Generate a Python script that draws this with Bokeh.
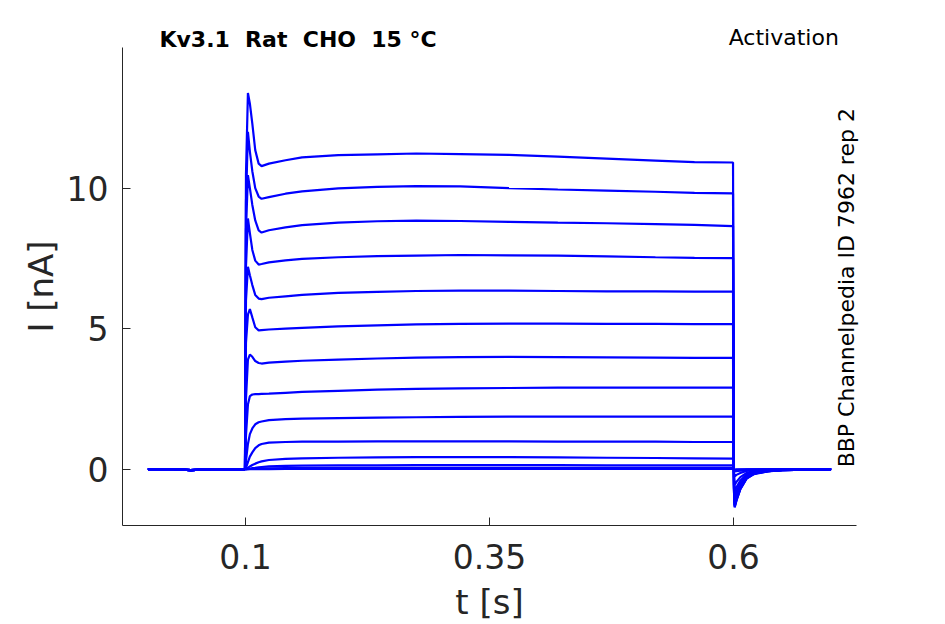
import math
from bokeh.plotting import figure
from bokeh.models import ColumnDataSource, FixedTicker, Range1d, LinearAxis
from bokeh.embed import file_html
from bokeh.resources import INLINE

# ---------------- data ----------------
time_s = [0.000, 0.022, 0.044, 0.070, 0.0995,
          0.1005, 0.1025, 0.1045, 0.107, 0.110, 0.1135, 0.1165, 0.124, 0.141, 0.158,
          0.195, 0.235, 0.275, 0.320, 0.370, 0.420, 0.470, 0.520, 0.560, 0.5995,
          0.6005, 0.6012, 0.603, 0.607, 0.6135, 0.621, 0.635, 0.650, 0.700]

trace_01 = [0, 0.01, -0.03, 0.01, 0,
            10.5, 13.38, 13.0, 12.29, 11.35, 10.87, 10.78, 10.87, 10.99, 11.09,
            11.17, 11.2, 11.23, 11.21, 11.18, 11.12, 11.05, 10.98, 10.92, 10.91,
            -0.8, -1.36, -1.12, -0.71, -0.33, -0.17, -0.08, -0.03, 0]
trace_02 = [0, 0.01, -0.03, 0.01, 0,
            9.5, 12.0, 11.3, 10.6, 10.0, 9.7, 9.62, 9.68, 9.8, 9.88,
            9.99, 10.04, 10.07, 10.06, 10.0, 9.95, 9.91, 9.87, 9.83, 9.81,
            -0.8, -1.33, -1.1, -0.7, -0.32, -0.16, -0.07, -0.03, 0]
trace_03 = [0, 0.01, -0.03, 0.01, 0,
            8.5, 10.46, 10.0, 9.4, 8.85, 8.5, 8.42, 8.5, 8.6, 8.68,
            8.77, 8.82, 8.84, 8.83, 8.8, 8.77, 8.75, 8.72, 8.69, 8.65,
            -0.7, -1.30, -1.07, -0.68, -0.31, -0.15, -0.07, -0.03, 0]
trace_04 = [0, 0.01, -0.03, 0.01, 0,
            7.2, 8.92, 8.4, 7.8, 7.42, 7.28, 7.3, 7.36, 7.43, 7.48,
            7.54, 7.58, 7.6, 7.62, 7.61, 7.6, 7.57, 7.54, 7.52, 7.51,
            -0.7, -1.27, -1.04, -0.66, -0.3, -0.15, -0.07, -0.03, 0]
trace_05 = [0, 0.01, -0.03, 0.01, 0,
            6.0, 7.2, 6.9, 6.55, 6.2, 6.07, 6.05, 6.1, 6.15, 6.2,
            6.27, 6.31, 6.34, 6.35, 6.35, 6.34, 6.33, 6.33, 6.32, 6.32,
            -0.65, -1.22, -1.0, -0.63, -0.29, -0.14, -0.07, -0.03, 0]
trace_06 = [0, 0.01, -0.03, 0.01, 0,
            4.5, 5.5, 5.7, 5.4, 5.05, 4.94, 4.95, 4.97, 5.0, 5.03,
            5.08, 5.12, 5.15, 5.17, 5.18, 5.18, 5.17, 5.17, 5.16, 5.16,
            -0.6, -1.17, -0.96, -0.6, -0.28, -0.13, -0.06, -0.02, 0]
trace_07 = [0, 0.01, -0.03, 0.01, 0,
            2.5, 3.9, 4.08, 4.0, 3.85, 3.78, 3.76, 3.79, 3.83, 3.86,
            3.9, 3.94, 3.97, 3.99, 4.0, 3.99, 3.98, 3.97, 3.96, 3.96,
            -0.55, -1.08, -0.88, -0.55, -0.25, -0.12, -0.06, -0.02, 0]
trace_08 = [0, 0.01, -0.03, 0.01, 0,
            1.2, 2.3, 2.6, 2.66, 2.67, 2.67, 2.68, 2.69, 2.72, 2.75,
            2.79, 2.83, 2.86, 2.88, 2.89, 2.9, 2.9, 2.9, 2.9, 2.9,
            -0.5, -0.95, -0.78, -0.49, -0.22, -0.11, -0.05, -0.02, 0]
trace_09 = [0, 0.01, -0.03, 0.01, 0,
            0.3, 0.9, 1.25, 1.45, 1.6, 1.67, 1.7, 1.75, 1.78, 1.8,
            1.82, 1.84, 1.85, 1.86, 1.87, 1.87, 1.87, 1.87, 1.87, 1.87,
            -0.4, -0.78, -0.64, -0.4, -0.18, -0.09, -0.04, -0.01, 0]
trace_10 = [0, 0.01, -0.03, 0.01, 0,
            0.05, 0.25, 0.45, 0.6, 0.75, 0.85, 0.9, 0.95, 0.97, 0.98,
            0.98, 0.99, 0.99, 0.99, 0.99, 0.98, 0.98, 0.98, 0.97, 0.97,
            -0.3, -0.55, -0.45, -0.28, -0.13, -0.06, -0.03, -0.01, 0]
trace_11 = [0, 0.01, -0.03, 0.01, 0,
            0.0, 0.05, 0.1, 0.15, 0.2, 0.25, 0.28, 0.33, 0.37, 0.39,
            0.41, 0.42, 0.43, 0.43, 0.43, 0.42, 0.41, 0.40, 0.39, 0.38,
            -0.12, -0.25, -0.2, -0.13, -0.06, -0.03, -0.01, 0, 0]
trace_12 = [0, 0.01, -0.03, 0.01, 0,
            0.0, 0.01, 0.02, 0.04, 0.05, 0.07, 0.08, 0.1, 0.12, 0.13,
            0.14, 0.14, 0.15, 0.15, 0.15, 0.15, 0.14, 0.14, 0.14, 0.14,
            -0.04, -0.08, -0.07, -0.05, -0.02, -0.01, 0, 0, 0]
trace_13 = [0, 0.01, -0.03, 0.01, 0,
            0.0, 0.0, 0.01, 0.01, 0.02, 0.02, 0.03, 0.03, 0.04, 0.04,
            0.05, 0.05, 0.05, 0.05, 0.05, 0.05, 0.05, 0.05, 0.05, 0.05,
            -0.01, -0.03, -0.02, -0.01, 0, 0, 0, 0, 0]
trace_14 = [0, 0.01, -0.03, 0.01, 0,
            0.0, 0.0, 0.0, 0.0, 0.0, 0.0, 0.0, 0.0, 0.01, 0.01,
            0.01, 0.01, 0.01, 0.01, 0.01, 0.01, 0.01, 0.01, 0.01, 0.01,
            0.0, -0.01, 0.0, 0.0, 0, 0, 0, 0, 0]

traces = [trace_01, trace_02, trace_03, trace_04, trace_05, trace_06, trace_07,
          trace_08, trace_09, trace_10, trace_11, trace_12, trace_13, trace_14]

x_tick_values = [0.1, 0.35, 0.6]
x_tick_labels = ["0.1", "0.35", "0.6"]
y_tick_values = [0, 5, 10]
y_tick_labels = ["0", "5", "10"]

# double spaces kept with no-break spaces (SVG collapses plain runs of spaces)
title_text = "Kv3.1\u00a0 Rat\u00a0 CHO\u00a0 15 °C"
protocol_text = "Activation"
source_text = "BBP Channelpedia ID 7962 rep 2"

# ---------------- figure ----------------
W, H = 940, 624
p = figure(width=W, height=H, output_backend="svg", toolbar_location=None,
           x_range=Range1d(-0.026, 0.726), y_range=Range1d(-2, 15),
           min_border_left=122, min_border_right=W - 856,
           min_border_top=47, min_border_bottom=H - 526)
p.outline_line_color = None
p.xgrid.visible = False
p.ygrid.visible = False
p.background_fill_color = "white"
p.border_fill_color = "white"

src = ColumnDataSource(dict(xs=[time_s for _ in traces], ys=traces))
p.multi_line(xs="xs", ys="ys", source=src, line_color="#0000FF", line_width=2.2)

FONT = "DejaVu Sans"
AX = "#262626"
for ax in (p.xaxis[0], p.yaxis[0]):
    ax.axis_line_color = AX
    ax.axis_line_width = 1
    ax.major_tick_line_color = AX
    ax.major_tick_in = 8
    ax.major_tick_out = 0
    ax.minor_tick_line_color = None
    ax.major_label_text_font = FONT
    ax.major_label_text_font_size = "33px"
    ax.major_label_text_color = AX
    ax.axis_label_text_font = FONT
    ax.axis_label_text_font_size = "34px"
    ax.axis_label_text_font_style = "normal"
    ax.axis_label_text_color = AX

p.xaxis.ticker = FixedTicker(ticks=x_tick_values)
p.yaxis.ticker = FixedTicker(ticks=y_tick_values)
p.xaxis.major_label_overrides = dict(zip(x_tick_values, x_tick_labels))
p.yaxis.major_label_overrides = dict(zip(y_tick_values, y_tick_labels))
p.xaxis.axis_label = "t [s]"
p.yaxis.axis_label = "I [nA]"
p.xaxis.major_label_standoff = 18
p.yaxis.major_label_standoff = 14
p.xaxis.axis_label_standoff = 10
p.yaxis.axis_label_standoff = 3


def text_axis(pos, text, size, style, standoff, orientation="horizontal"):
    ax = LinearAxis(ticker=FixedTicker(ticks=[pos]),
                    major_label_overrides={pos: text},
                    axis_line_color=None, major_tick_line_color=None,
                    minor_tick_line_color=None,
                    major_tick_in=0, major_tick_out=0,
                    major_label_text_font=FONT,
                    major_label_text_font_size=size,
                    major_label_text_font_style=style,
                    major_label_text_color="black",
                    major_label_standoff=standoff,
                    major_label_orientation=orientation)
    return ax


# texts around the frame (anchor positions in data units)
title_x = 0.1539
protocol_x = 0.6515
source_y = 7.72

p.add_layout(text_axis(title_x, title_text, "22px", "bold", -4), "above")
p.add_layout(text_axis(protocol_x, protocol_text, "22px", "normal", -26), "above")
p.add_layout(text_axis(source_y, source_text, "22px", "normal", -10,
                       orientation=math.pi / 2), "right")

open("out.html", "w").write(file_html(p, INLINE))
